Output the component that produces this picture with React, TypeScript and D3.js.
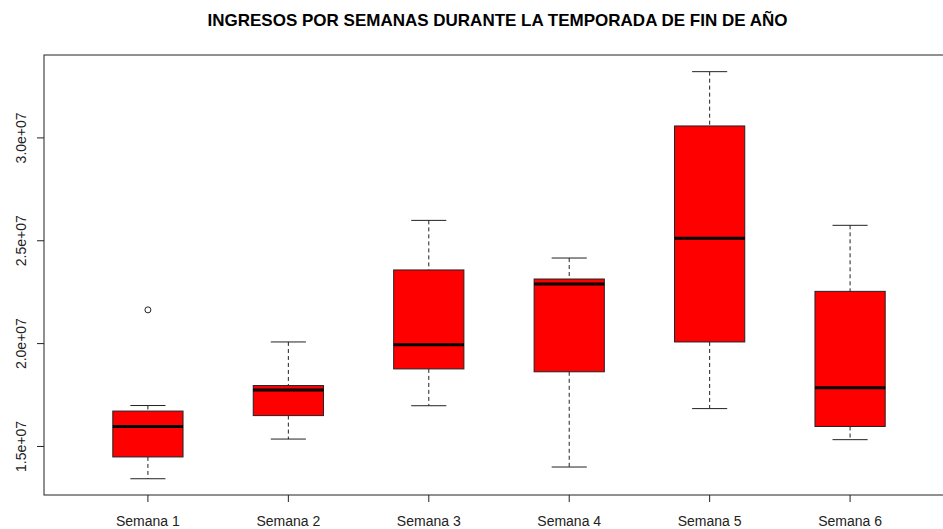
import React from "react";
import * as d3 from "d3";

const categories = ["Semana 1", "Semana 2", "Semana 3", "Semana 4", "Semana 5", "Semana 6"];
const lowerWhisker = [1.343e7, 1.536e7, 1.698e7, 1.400e7, 1.684e7, 1.533e7];
const q1 = [1.449e7, 1.650e7, 1.877e7, 1.863e7, 2.008e7, 1.597e7];
const median = [1.597e7, 1.774e7, 1.995e7, 2.290e7, 2.512e7, 1.785e7];
const q3 = [1.672e7, 1.796e7, 2.358e7, 2.314e7, 3.058e7, 2.254e7];
const upperWhisker = [1.699e7, 2.008e7, 2.599e7, 2.416e7, 3.322e7, 2.575e7];
const outliers: [number, number][] = [[0, 2.164e7]];
const yTicks = [1.5e7, 2.0e7, 2.5e7, 3.0e7];
const yTickLabels = ["1.5e+07", "2.0e+07", "2.5e+07", "3.0e+07"];
const title = "INGRESOS POR SEMANAS DURANTE LA TEMPORADA DE FIN DE AÑO";

export default function App() {
  const W = 943, H = 529;
  const left = 44, right = 954, top = 55, bottom = 495;
  const x = d3.scaleLinear().domain([0.26, 6.74]).range([left, right]);
  const y = d3.scaleLinear().domain([1.264e7, 3.403e7]).range([bottom, top]);
  const step = x(2) - x(1);
  const boxW = step * 0.5;
  const capW = boxW * 0.5;
  const font = "Liberation Sans, Arial, sans-serif";

  return (
    <svg width={W} height={H} style={{ position: "absolute", left: 0, top: 0, background: "#fff" }}>
      <text x={497.5} y={26} textAnchor="middle" fontFamily={font} fontWeight="bold" fontSize={17} fill="#000">
        {title}
      </text>
      <rect x={left} y={top} width={right - left} height={bottom - top} fill="none" stroke="#222" strokeWidth={1} />
      {yTicks.map((t, i) => (
        <g key={t}>
          <line x1={left} x2={left - 7} y1={y(t)} y2={y(t)} stroke="#222" />
          <text transform={`translate(25.5,${y(t)}) rotate(-90)`} textAnchor="middle" fontFamily={font} fontSize={14} fill="#222">
            {yTickLabels[i]}
          </text>
        </g>
      ))}
      {categories.map((c, i) => {
        const cx = x(i + 1);
        return (
          <g key={c}>
            <line x1={cx} x2={cx} y1={bottom} y2={bottom + 7} stroke="#222" />
            <text x={cx} y={526} textAnchor="middle" fontFamily={font} fontSize={14} fill="#222">{c}</text>
            <line x1={cx} x2={cx} y1={y(upperWhisker[i])} y2={y(q3[i])} stroke="#222" strokeDasharray="4,3" />
            <line x1={cx} x2={cx} y1={y(q1[i])} y2={y(lowerWhisker[i])} stroke="#222" strokeDasharray="4,3" />
            <line x1={cx - capW / 2} x2={cx + capW / 2} y1={y(upperWhisker[i])} y2={y(upperWhisker[i])} stroke="#222" />
            <line x1={cx - capW / 2} x2={cx + capW / 2} y1={y(lowerWhisker[i])} y2={y(lowerWhisker[i])} stroke="#222" />
            <rect x={cx - boxW / 2} y={y(q3[i])} width={boxW} height={y(q1[i]) - y(q3[i])} fill="#FF0000" stroke="#222" strokeWidth={1} />
            <line x1={cx - boxW / 2} x2={cx + boxW / 2} y1={y(median[i])} y2={y(median[i])} stroke="#000" strokeWidth={3} />
          </g>
        );
      })}
      {outliers.map(([i, v], k) => (
        <circle key={k} cx={x(i + 1)} cy={y(v)} r={3} fill="none" stroke="#222" strokeWidth={1} />
      ))}
    </svg>
  );
}
